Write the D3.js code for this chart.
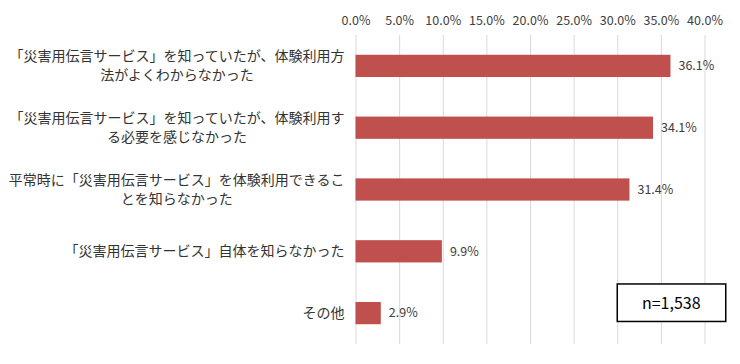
<!DOCTYPE html>
<meta charset="utf-8">
<script src="https://d3js.org/d3.v7.min.js"></script>
<style>
body { margin: 0; background: #fff; }
text { font-family: "Noto Sans CJK JP", sans-serif; fill: #333; }
.tick text { font-size: 12.5px; fill: #404040; }
.tick line { stroke: #d9d9d9; }
</style>
<body>
<div id="chart"></div>
</body>
<script>

// categories (each label split into its display lines)
const labels = [
	["「災害用伝言サービス」を知っていたが、体験利用方", "法がよくわからなかった"],
	["「災害用伝言サービス」を知っていたが、体験利用す", "る必要を感じなかった"],
	["平常時に「災害用伝言サービス」を体験利用できるこ", "とを知らなかった"],
	["「災害用伝言サービス」自体を知らなかった"],
	["その他"]
];
const values = [36.1, 34.1, 31.4, 9.9, 2.9];
const ticks = [0, 5, 10, 15, 20, 25, 30, 35, 40];
const sampleNote = "n=1,538";

const W = 740, H = 364;
const margin = {top: 35, right: 35.5, bottom: 20, left: 355.5};
const width = W - margin.left - margin.right,
	height = H - margin.top - margin.bottom;

const svg = d3.select("#chart").append("svg")
	.attr("width", W)
	.attr("height", H)
.append("g")
	.attr("transform", `translate(${margin.left}, ${margin.top})`);

const x = d3.scaleLinear().domain([0, 40]).range([0, width]);
const y = d3.scaleBand().domain(d3.range(values.length)).range([0, height]).paddingInner(0.64).paddingOuter(0.32);

// top axis with gridlines
const xAxis = svg.append("g")
	.attr("class", "x axis")
	.call(d3.axisTop(x).tickValues(ticks).tickSize(0).tickPadding(10)
		.tickFormat(d => d.toFixed(1) + "%"));
xAxis.select(".domain").remove();
xAxis.selectAll(".tick line").attr("y2", height);

// bars
svg.selectAll("rect.bar")
	.data(values)
	.enter().append("rect")
		.attr("class", "bar")
		.attr("x", x(0))
		.attr("y", (d, i) => y(i))
		.attr("width", d => x(d) - x(0))
		.attr("height", y.bandwidth())
		.attr("fill", "#c0504d");

// value labels
svg.selectAll("text.val")
	.data(values)
	.enter().append("text")
		.attr("class", "val")
		.attr("x", d => x(d) + 8)
		.attr("y", (d, i) => y(i) + y.bandwidth() / 2)
		.attr("dy", "0.35em")
		.style("font-size", "12.5px")
		.style("fill", "#404040")
		.text(d => d.toFixed(1) + "%");

// category labels: block right aligned, lines centered inside the block
const lineH = 19;
labels.forEach(function(lines, i) {
	const g = svg.append("g");
	const cy = y(i) + y.bandwidth() / 2;
	const t = g.selectAll("text")
		.data(lines)
		.enter().append("text")
			.style("font-size", "14px")
			.attr("text-anchor", "middle")
			.attr("y", (d, j) => cy + (j - (lines.length - 1) / 2) * lineH)
			.attr("dy", "0.35em")
			.text(d => d);
	let maxW = 0;
	t.each(function() { maxW = Math.max(maxW, this.getComputedTextLength()); });
	t.attr("x", -11 - maxW / 2);
});

// sample size box
const box = svg.append("g")
	.attr("transform", `translate(${x(30)}, ${y(4) - 18})`);
box.append("rect")
	.attr("width", 108.5)
	.attr("height", 37.5)
	.attr("fill", "#fff")
	.attr("stroke", "#000")
	.attr("stroke-width", 1.5);
box.append("text")
	.attr("x", 54)
	.attr("y", 19)
	.attr("dy", "0.35em")
	.attr("text-anchor", "middle")
	.style("font-size", "16px")
	.style("fill", "#000")
	.text(sampleNote);

</script>
